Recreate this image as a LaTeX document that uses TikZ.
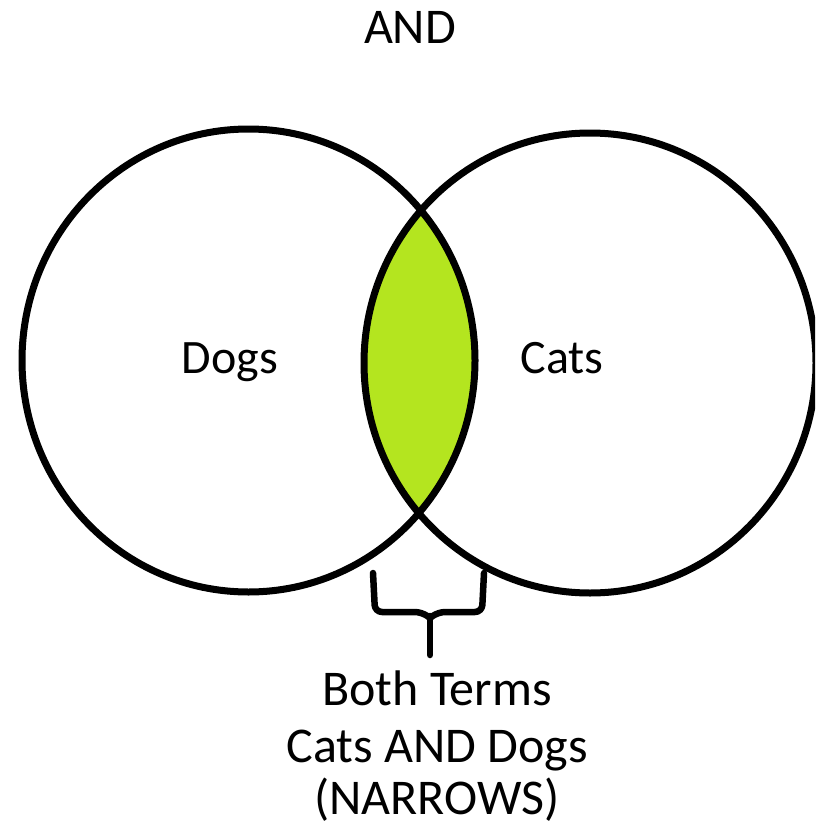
\documentclass[tikz,border=0pt]{standalone}
\usepackage{fontspec}
\setmainfont{Carlito}
\definecolor{lensgreen}{RGB}{180,229,31}
\begin{document}
\begin{tikzpicture}[x=1pt,y=-1pt,
  outline/.style={draw=black,line width=7pt},
  lbl/.style={font=\fontsize{48}{57}\selectfont,anchor=base,inner sep=0pt},
  biglbl/.style={font=\fontsize{50}{57}\selectfont,anchor=base,inner sep=0pt},
  bracepath/.style={draw=black,line width=6.5pt,line cap=round,line join=round}]
\useasboundingbox (0,0) rectangle (815,827);
\clip (0,0) rectangle (815,827);
\fill[white] (0,0) rectangle (815,827);
\coordinate (cl) at (248.5,360.5);
\coordinate (cr) at (590,363);
\begin{scope}
  \clip (cl) ellipse [x radius=226.5pt, y radius=231.5pt];
  \fill[lensgreen] (cr) ellipse [x radius=226pt, y radius=230pt];
\end{scope}
\draw[outline] (cl) ellipse [x radius=226.5pt, y radius=231.5pt];
\draw[outline] (cr) ellipse [x radius=226pt, y radius=230pt];
\node[biglbl] (title) at (410,43) {AND};
\node[lbl] (dogs) at (230,373) {Dogs};
\node[lbl] (cats) at (562,373) {Cats};
\node[biglbl] (both) at (437,705) {Both Terms};
\node[biglbl] (catsdogs) at (437,762) {Cats AND Dogs};
\node[biglbl] (narrows) at (437,814) {(NARROWS)};
\coordinate (bl) at (373,573);
\coordinate (br) at (484,573);
\coordinate (bm) at (430,655);
\draw[bracepath,rounded corners=7pt] (bl) -- (375,612) -- (422,612) -- (430,618);
\draw[bracepath,rounded corners=7pt] (br) -- (482,612) -- (438,612) -- (430,618);
\draw[bracepath] (430,616) -- (bm);
\end{tikzpicture}
\end{document}
